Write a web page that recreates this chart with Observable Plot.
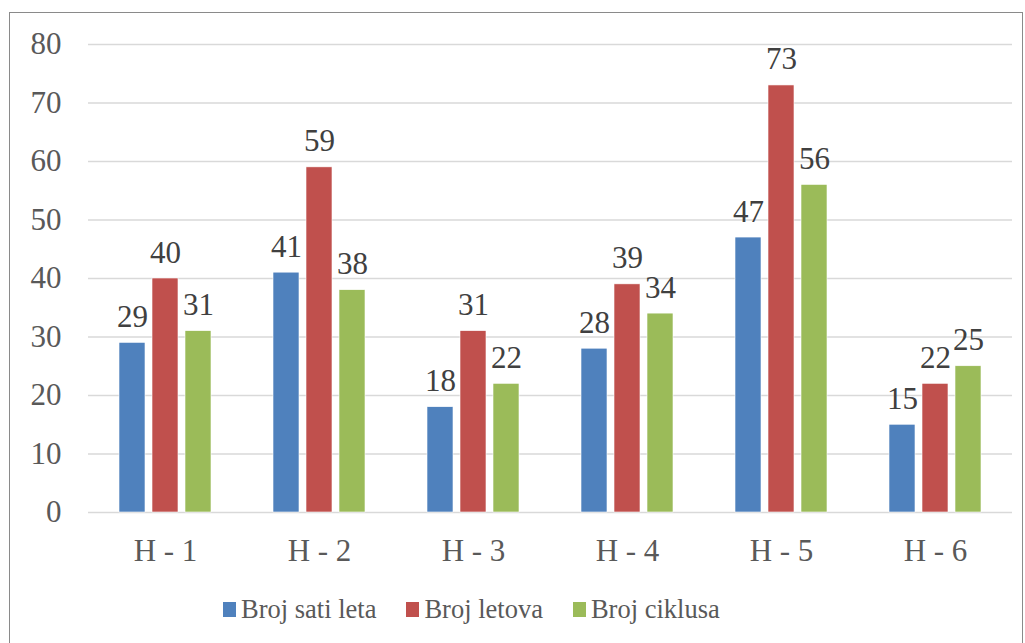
<!DOCTYPE html>
<html>
<head>
<meta charset="utf-8">
<script src="https://cdn.jsdelivr.net/npm/d3@7"></script>
<script src="https://cdn.jsdelivr.net/npm/@observablehq/plot@0.6"></script>
<style>
  html, body { margin: 0; padding: 0; background: #fff; }
  body { width: 1025px; height: 643px; position: relative; overflow: hidden; font-family: "Liberation Serif", Tinos, "Times New Roman", "DejaVu Serif", serif; }
  #frame { position: absolute; left: 9px; top: 12px; width: 1014px; height: 700px; border: 1.5px solid #8a8a8a; box-sizing: border-box; }
  #chart { position: absolute; left: 0; top: 0; }
  #chart svg, #chart svg text { font-family: "Liberation Serif", Tinos, "Times New Roman", "DejaVu Serif", serif; }
  #legend { position: absolute; left: 223px; top: 594px; display: flex; align-items: center; font-size: 26.5px; color: #595959; white-space: nowrap; }
  #legend .item { display: flex; align-items: center; margin-right: 30px; }
  #legend .sw { width: 13px; height: 15px; margin-right: 5px; display: inline-block; }
</style>
</head>
<body>
<div id="frame"></div>
<div id="chart"></div>
<div id="legend"></div>
<script>
const categories = ["H - 1", "H - 2", "H - 3", "H - 4", "H - 5", "H - 6"];
const seriesNames = ["Broj sati leta", "Broj letova", "Broj ciklusa"];
const brojSatiLeta = [29, 41, 18, 28, 47, 15];
const brojLetova = [40, 59, 31, 39, 73, 22];
const brojCiklusa = [31, 38, 22, 34, 56, 25];
const yTicks = [0, 10, 20, 30, 40, 50, 60, 70, 80];
const colors = ["#4F81BD", "#C0504D", "#9BBB59"];

const seriesValues = [brojSatiLeta, brojLetova, brojCiklusa];
const data = [];
categories.forEach((c, i) => {
  seriesNames.forEach((s, j) => {
    data.push({category: c, series: s, value: seriesValues[j][i]});
  });
});

const serif = "'Liberation Serif', Tinos, 'Times New Roman', 'DejaVu Serif', serif";
const chart = Plot.plot({
  width: 1025,
  height: 580,
  marginLeft: 86,
  marginRight: 12,
  marginTop: 44,
  marginBottom: 68,
  style: {fontFamily: serif, fontSize: "31px", color: "#595959", background: "transparent", overflow: "visible"},
  fx: {domain: categories, padding: 0, label: null, axis: null},
  x: {domain: seriesNames, paddingInner: 0.2, paddingOuter: 0.875, axis: null},
  y: {domain: [0, 80], ticks: yTicks, label: null, axis: null},
  color: {domain: seriesNames, range: colors},
  marks: [
    Plot.gridY(yTicks, {stroke: "#D9D9D9", strokeOpacity: 1, strokeWidth: 1.5}),
    Plot.axisY(yTicks, {tickSize: 0, tickPadding: 27, label: null, fontSize: 31, fill: "#595959"}),
    Plot.axisFx({anchor: "bottom", tickSize: 0, tickPadding: 26, label: null, fontSize: 31, fill: "#595959"}),
    Plot.barY(data, {fx: "category", x: "series", y: "value", fill: "series", stroke: "white", strokeWidth: 0.6}),
    Plot.text(data, {fx: "category", x: "series", y: "value", text: d => String(d.value), lineAnchor: "bottom", dy: -16, fontSize: 31, fill: "#404040"})
  ]
});
document.getElementById("chart").appendChild(chart);

const legend = document.getElementById("legend");
seriesNames.forEach((s, j) => {
  const item = document.createElement("span");
  item.className = "item";
  const sw = document.createElement("span");
  sw.className = "sw";
  sw.style.background = colors[j];
  const t = document.createElement("span");
  t.textContent = s;
  item.appendChild(sw);
  item.appendChild(t);
  legend.appendChild(item);
});
</script>
</body>
</html>
